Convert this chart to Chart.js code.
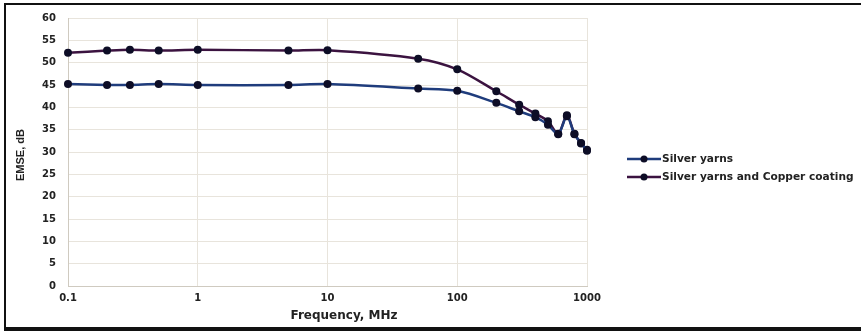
<!DOCTYPE html>
<html>
<head>
<meta charset="utf-8">
<script src="https://cdn.jsdelivr.net/npm/chart.js@4.4.1/dist/chart.umd.min.js"></script>
<style>
    html, body { margin: 0; padding: 0; background: #fff; }
    #wrap { width: 861px; height: 331px; }
</style>
</head>
<body>
<div id="wrap"><canvas id="chart" width="861" height="331"></canvas></div>
<script>
// frequencies in MHz
const freqs = [0.1, 0.2, 0.3, 0.5, 1, 5, 10, 50, 100, 200, 300, 400, 500, 600, 700, 800, 900, 1000];
const silverYarns = [45.2, 45.0, 45.0, 45.2, 45.0, 45.0, 45.2, 44.2, 43.7, 41.0, 39.1, 37.8, 36.1, 34.0, 38.0, 34.0, 32.0, 30.3];
const silverCopper = [52.2, 52.7, 52.9, 52.7, 52.9, 52.7, 52.8, 50.9, 48.5, 43.6, 40.6, 38.6, 36.9, 34.1, 38.2, 34.1, 31.9, 30.5];
const xTicks = [0.1, 1, 10, 100, 1000];
const seriesNames = ['Silver yarns', 'Silver yarns and Copper coating'];

const lineColors = ['#1f3c7c', '#3b1340'];
const markerColor = '#0d0d26';
const gridColor = '#e8e4dc';
const textColor = '#222';
const boldFont = '"DejaVu Sans", sans-serif';

const toPoints = (vals) => freqs.map((f, i) => ({x: f, y: vals[i]}));

// frame, axis titles and legend drawn by hand
const decorPlugin = {
    id: 'decor',
    afterDraw(chart) {
        const ctx = chart.ctx;
        ctx.save();

        // outer frame (no right edge)
        ctx.fillStyle = '#111';
        ctx.fillRect(4, 3, 857, 2);
        ctx.fillRect(4, 3, 2, 328);
        ctx.fillRect(4, 327, 857, 4);

        // y title
        ctx.fillStyle = textColor;
        ctx.font = 'bold 11px "Liberation Sans Narrow", "Liberation Sans", sans-serif';
        ctx.textAlign = 'center';
        ctx.textBaseline = 'middle';
        ctx.translate(21, 155);
        ctx.rotate(-Math.PI / 2);
        ctx.fillText('EMSE, dB', 0, 0);
        ctx.restore();

        ctx.save();
        ctx.fillStyle = textColor;
        ctx.font = 'bold 12px ' + boldFont;
        ctx.textAlign = 'center';
        ctx.textBaseline = 'middle';
        ctx.fillText('Frequency, MHz', 344, 316);

        // legend
        const rows = [159, 177];
        ctx.textAlign = 'left';
        ctx.font = 'bold 10.6px ' + boldFont;
        rows.forEach((y, i) => {
            ctx.strokeStyle = lineColors[i];
            ctx.lineWidth = 2.5;
            ctx.beginPath();
            ctx.moveTo(627, y);
            ctx.lineTo(661, y);
            ctx.stroke();
            ctx.fillStyle = markerColor;
            ctx.beginPath();
            ctx.arc(644, y, 3.5, 0, Math.PI * 2);
            ctx.fill();
            ctx.fillStyle = textColor;
            ctx.fillText(seriesNames[i], 662, y);
        });
        ctx.restore();
    }
};

const makeSet = (label, vals, color) => ({
    label: label,
    data: toPoints(vals),
    borderColor: color,
    borderWidth: 2.5,
    backgroundColor: markerColor,
    pointBackgroundColor: markerColor,
    pointBorderColor: markerColor,
    pointRadius: 4,
    pointBorderWidth: 0,
    tension: 0.3,
    clip: false
});

new Chart(document.getElementById('chart'), {
    type: 'line',
    data: {
        datasets: [
            makeSet(seriesNames[0], silverYarns, lineColors[0]),
            makeSet(seriesNames[1], silverCopper, lineColors[1])
        ]
    },
    options: {
        responsive: false,
        animation: false,
        layout: {padding: {top: 15, right: 274, bottom: 0, left: 0}},
        plugins: {
            legend: {display: false},
            tooltip: {enabled: false}
        },
        scales: {
            x: {
                type: 'logarithmic',
                min: 0.1,
                max: 1000,
                afterBuildTicks: (scale) => {
                    scale.ticks = xTicks.map(v => ({value: v}));
                },
                afterFit: (scale) => { scale.height = 45; },
                ticks: {
                    padding: 6,
                    color: textColor,
                    font: {family: boldFont, size: 10, weight: 'bold'},
                    callback: (v) => String(v)
                },
                grid: {color: gridColor, tickLength: 0},
                border: {color: '#cfcac0'}
            },
            y: {
                min: 0,
                max: 60,
                afterFit: (scale) => { scale.width = 68; },
                ticks: {
                    stepSize: 5,
                    padding: 12,
                    color: textColor,
                    font: {family: boldFont, size: 10, weight: 'bold'}
                },
                grid: {color: gridColor, tickLength: 0},
                border: {color: '#cfcac0'}
            }
        }
    },
    plugins: [decorPlugin]
});
</script>
</body>
</html>
